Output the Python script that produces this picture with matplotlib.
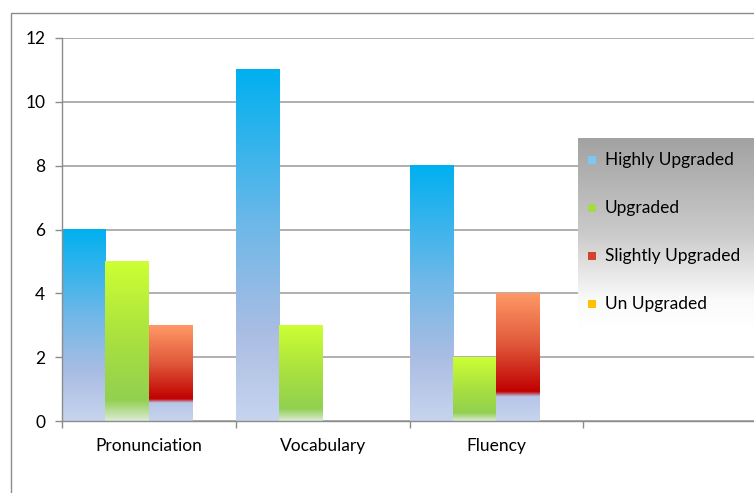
import numpy as np
import matplotlib.pyplot as plt
from matplotlib.colors import LinearSegmentedColormap, to_rgb
from matplotlib.patches import Rectangle

# data
categories = ['Pronunciation', 'Vocabulary', 'Fluency', '']
series = ['Highly Upgraded', 'Upgraded', 'Slightly Upgraded', 'Un Upgraded']
highly = [6, 11, 8, 0]
upgraded = [5, 3, 2, 0]
slightly = [3, 0, 4, 0]
un_upgraded = [0, 0, 0, 0]
values = [highly, upgraded, slightly, un_upgraded]

# gradient stops (fraction from bottom, colour)
grads = [
    [(0.0, '#c6d4ee'), (0.25, '#aabde3'), (0.55, '#6fb8e8'), (1.0, '#00b0f0')],
    [(0.0, '#dcead6'), (0.13, '#92d050'), (0.5, '#a8e040'), (1.0, '#ccff33')],
    [(0.0, '#c6d4ee'), (0.19, '#b7c6e8'), (0.23, '#c00000'), (0.6, '#e0583a'), (1.0, '#ff9966')],
    [(0.0, '#ffc000'), (1.0, '#ffc000')],
]
legend_colors = ['#7ec8f0', '#a6d84a', '#d8402e', '#ffc000']

fig = plt.figure(figsize=(7.54, 4.93), dpi=100)
plt.rcParams['font.family'] = ['Lato', 'DejaVu Sans']
fs = 12.5

# outer chart border
fig.add_artist(Rectangle((11 / 754, -0.1), 1.2, 1 - 13 / 493 + 0.1, transform=fig.transFigure,
                         fill=False, edgecolor='#8c8c8c', linewidth=1.0))

ax = fig.add_axes([62 / 754, 72 / 493, 695 / 754, 383 / 493])

width = 0.25
for i, vals in enumerate(values):
    x = np.arange(len(categories)) + i * width
    bars = ax.bar(x, vals, width=width, align='edge', color='none', edgecolor='none')
    cmap = LinearSegmentedColormap.from_list('g%d' % i, [(p, to_rgb(c)) for p, c in grads[i]])
    grad = np.linspace(0, 1, 256).reshape(-1, 1)
    for b in bars:
        h = b.get_height()
        if h <= 0:
            continue
        x0 = b.get_x()
        ax.imshow(grad, cmap=cmap, origin='lower', aspect='auto', interpolation='bilinear',
                  extent=[x0, x0 + b.get_width(), 0, h], zorder=2)

ax.set_xlim(0, len(categories))
ax.set_ylim(0, 12)
ax.set_yticks(range(0, 13, 2))
ax.yaxis.grid(True, color='#9a9a9a', linewidth=1.1)
ax.set_axisbelow(True)

ax.set_xticks(range(len(categories) + 1))
ax.set_xticklabels([])
ax.set_xticks(np.arange(len(categories)) + 0.5, minor=True)
ax.set_xticklabels(categories, minor=True)
ax.tick_params(axis='x', which='major', length=5, color='#8c8c8c', width=1)
ax.tick_params(axis='x', which='minor', length=0, pad=12, labelsize=fs)
ax.tick_params(axis='y', length=5, color='#8c8c8c', width=1, pad=7, labelsize=fs)
for s in ['top', 'right']:
    ax.spines[s].set_visible(False)
for s in ['left', 'bottom']:
    ax.spines[s].set_color('#8c8c8c')
    ax.spines[s].set_linewidth(1.0)

# legend with grey-to-white gradient background
lax = fig.add_axes([578 / 754, 1 - 328 / 493, 190 / 754, 190 / 493])
lax.set_xlim(0, 190)
lax.set_ylim(190, 0)
bg = LinearSegmentedColormap.from_list('bg', [(0, '#a2a2a2'), (0.5, '#cacaca'), (0.85, '#fafafa'), (1, '#ffffff')])
lax.imshow(np.linspace(0, 1, 256).reshape(-1, 1), cmap=bg, aspect='auto',
           extent=[0, 190, 190, 0], zorder=0)
lax.axis('off')
for i, name in enumerate(series):
    yc = 22 + i * 48
    lax.add_patch(Rectangle((10, yc - 4), 8, 8, facecolor=legend_colors[i], edgecolor='none', zorder=2))
    lax.text(27, yc, name, va='center', ha='left', fontsize=fs, zorder=3)

fig.savefig('out.png', dpi=100)
